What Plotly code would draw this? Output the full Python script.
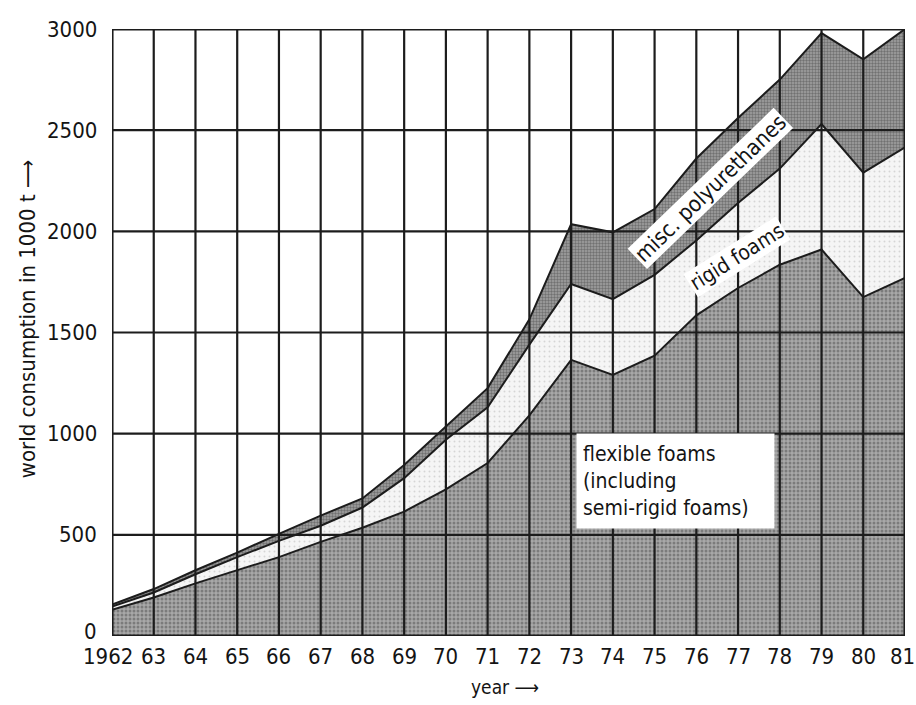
import plotly.graph_objects as go

# World polyurethane consumption (in 1000 t), stacked by product group
years = list(range(1962, 1982))
year_labels = ["1962"] + [str(y)[2:] for y in years[1:]]

flexible_foams = [130, 190, 260, 325, 390, 465, 535, 615, 725, 855,
                  1090, 1365, 1290, 1385, 1585, 1720, 1835, 1910, 1675, 1770]
rigid_foams = [15, 25, 45, 65, 80, 80, 100, 165, 245, 275,
               350, 375, 375, 400, 370, 420, 475, 620, 615, 645]
misc_polyurethanes = [10, 17, 20, 22, 35, 50, 45, 65, 65, 95,
                      125, 295, 330, 325, 405, 420, 440, 450, 560, 585]

y_ticks = [0, 500, 1000, 1500, 2000, 2500, 3000]
y_tick_labels = [str(v) for v in y_ticks]

FONT = "DejaVu Sans Condensed"
INK = "#1c1c1c"
TEXT = "#141414"

fig = go.Figure()

fig.add_trace(go.Scatter(
    x=years, y=flexible_foams, stackgroup="pu", mode="lines",
    line=dict(color=INK, width=2),
    fillcolor="#9a9a9a",
    fillpattern=dict(shape=".", bgcolor="#a8a8a8", fgcolor="#4d4d4d",
                     size=4, solidity=0.45),
    name="flexible foams", hoverinfo="skip"))
fig.add_trace(go.Scatter(
    x=years, y=rigid_foams, stackgroup="pu", mode="lines",
    line=dict(color=INK, width=2),
    fillcolor="#f0f0f0",
    fillpattern=dict(shape=".", bgcolor="#f5f5f5", fgcolor="#b5b5b5",
                     size=5, solidity=0.12),
    name="rigid foams", hoverinfo="skip"))
fig.add_trace(go.Scatter(
    x=years, y=misc_polyurethanes, stackgroup="pu", mode="lines",
    line=dict(color=INK, width=2),
    fillcolor="#8e8e8e",
    fillpattern=dict(shape=".", bgcolor="#a2a2a2", fgcolor="#404040",
                     size=3, solidity=0.5),
    name="misc. polyurethanes", hoverinfo="skip"))

# Grid drawn over the filled areas
shapes = []
for yr in years:
    shapes.append(dict(type="line", xref="x", yref="y", x0=yr, x1=yr,
                       y0=y_ticks[0], y1=y_ticks[-1], layer="above",
                       line=dict(color=INK, width=2.2)))
for v in y_ticks:
    shapes.append(dict(type="line", xref="x", yref="y", x0=years[0], x1=years[-1],
                       y0=v, y1=v, layer="above",
                       line=dict(color=INK, width=2.2)))
shapes.append(dict(type="rect", xref="x", yref="y", x0=years[0], x1=years[-1],
                   y0=y_ticks[0], y1=y_ticks[-1], layer="above",
                   line=dict(color=INK, width=3)))

annotations = []

# Tick labels
for yr, lab in zip(years, year_labels):
    shift = 0
    if yr == years[0]:
        shift = -4
    elif yr == years[-1]:
        shift = -3
    annotations.append(dict(
        x=yr, y=0, xref="x", yref="paper", text=lab, showarrow=False,
        xanchor="center", yanchor="top", yshift=-6, xshift=shift,
        font=dict(family=FONT, size=22, color=TEXT)))
for v, lab in zip(y_ticks, y_tick_labels):
    annotations.append(dict(
        x=-0.017, y=v, xref="paper", yref="y", text=lab, showarrow=False,
        xanchor="right", yanchor="middle", yshift=5 if v == 0 else 0,
        font=dict(family=FONT, size=22, color=TEXT)))

# Axis titles
annotations.append(dict(
    x=0.4956, y=-0.084, xref="paper", yref="paper", text="year ⟶",
    showarrow=False, xanchor="center", yanchor="middle",
    font=dict(family=FONT, size=19, color=TEXT)))
annotations.append(dict(
    x=-0.107, y=0.522, xref="paper", yref="paper",
    text="world consumption in 1000 t ⟶", textangle=-90,
    showarrow=False, xanchor="center", yanchor="middle",
    font=dict(family=FONT, size=22, color=TEXT)))

# Series labels
annotations += [
    dict(x=1976.33, y=2214, xref="x", yref="y", text="misc. polyurethanes",
         textangle=-44, showarrow=False, bgcolor="white", borderpad=1,
         font=dict(family=FONT, size=22, color=TEXT)),
    dict(x=1976.97, y=1873, xref="x", yref="y", text="rigid foams",
         textangle=-32, showarrow=False, bgcolor="white", borderpad=1,
         font=dict(family=FONT, size=21, color=TEXT)),
    dict(x=1975.51, y=766, xref="x", yref="y",
         text="flexible foams<br>(including<br>semi-rigid foams)",
         align="left", showarrow=False, bgcolor="white", borderpad=6,
         width=185, height=82, xanchor="center", yanchor="middle",
         font=dict(family=FONT, size=21, color=TEXT)),
]

fig.update_layout(
    width=916, height=705,
    margin=dict(l=112, r=11, t=29, b=69),
    paper_bgcolor="white", plot_bgcolor="white",
    showlegend=False,
    shapes=shapes, annotations=annotations,
    font=dict(family=FONT, color=TEXT),
    xaxis=dict(range=[years[0], years[-1]], showgrid=False, zeroline=False,
               showline=False, ticks="", showticklabels=False),
    yaxis=dict(range=[y_ticks[0], y_ticks[-1]], showgrid=False, zeroline=False,
               showline=False, ticks="", showticklabels=False),
)

fig.write_html("out.html")
